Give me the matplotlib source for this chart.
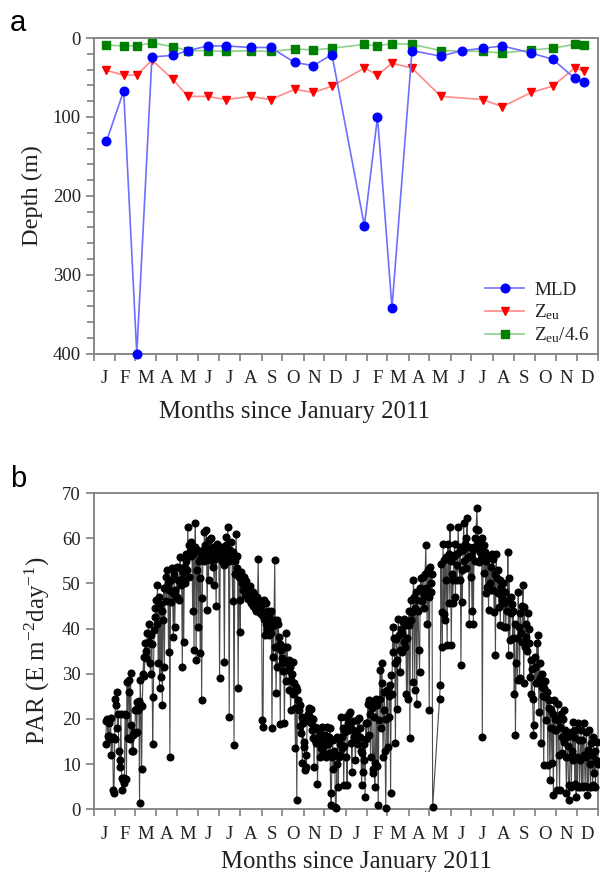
import numpy as np
import pandas as pd
import matplotlib
matplotlib.use("Agg")
import matplotlib.pyplot as plt
import matplotlib.dates as mdates

plt.rcParams["font.family"] = ["Liberation Serif", "DejaVu Serif"]
plt.rcParams["mathtext.fontset"] = "custom"
plt.rcParams["mathtext.rm"] = "Liberation Serif"
plt.rcParams["mathtext.it"] = "Liberation Serif:italic"

# ---------------- panel a: monthly profiles ----------------
mld_dates = ["2011-01-19", "2011-02-13", "2011-03-04", "2011-03-26", "2011-04-25",
             "2011-05-17", "2011-06-15", "2011-07-11", "2011-08-16", "2011-09-14",
             "2011-10-19", "2011-11-15", "2011-12-12", "2012-01-28", "2012-02-16",
             "2012-03-08", "2012-04-06", "2012-05-18", "2012-06-17", "2012-07-18",
             "2012-08-15", "2012-09-26", "2012-10-27", "2012-11-28", "2012-12-11"]
mld = [131, 67, 400, 24, 22, 16, 10, 10, 12, 12, 31, 35, 21,
       238, 100, 342, 16, 23, 16, 13, 10, 19, 27, 51, 56]
# euphotic depth (no value on the June 2012 cruise)
zeu = [41, 47, 47, 28, 52, 74, 74, 78, 74, 78, 65, 69, 61,
       38, 47, 32, 38, 74, np.nan, 78, 87, 69, 61, 38, 42]
zeu_46 = [9, 10, 10, 6, 11, 16, 16, 17, 16, 17, 14, 15, 13,
          8, 10, 7, 8, 16, np.nan, 17, 19, 15, 13, 8, 9]

# ---------------- panel b: daily PAR ----------------
par_2011 = [
    # Jan (from the 18th)
    [14.5, 19.5, 20.0, 16.3, 19.0, 16.2, 15.5, 20.2, 12.0, 15.8, 16.0, 4.2, 3.5, 15.5],
    # Feb
    [24.5, 23.0, 26.0, 18.0, 21.0, 12.8, 9.4, 11.0, 21.2, 7.0, 4.3, 6.5, 5.8, 7.0,
     21.0, 20.8, 6.8, 28.2, 15.7, 26.0, 28.7, 15.5, 30.1, 18.6, 12.8, 16.4, 13.0, 17.0],
    # Mar
    [16.8, 22.0, 22.3, 17.0, 23.8, 22.0, 24.0, 1.3, 28.6, 23.0, 9.0, 22.8, 30.0, 33.8,
     29.5, 36.7, 35.0, 33.5, 39.0, 36.8, 41.1, 37.0, 32.3, 30.0, 38.5, 36.5, 14.4, 24.8,
     39.7, 42.6, 44.5],
    # Apr
    [46.3, 41.0, 49.6, 32.3, 47.0, 26.8, 45.5, 29.3, 44.0, 23.0, 41.9, 49.0, 31.5, 48.9,
     51.5, 46.0, 53.0, 50.0, 34.9, 48.5, 11.6, 50.7, 45.9, 53.5, 47.8, 38.2, 52.0, 40.4,
     48.5, 47.0],
    # May
    [53.7, 47.0, 50.7, 46.3, 53.5, 55.9, 49.6, 51.0, 31.5, 52.5, 37.0, 53.7, 50.0, 55.0,
     56.5, 53.0, 62.5, 51.5, 58.5, 57.0, 56.0, 59.2, 57.7, 44.0, 56.5, 35.2, 58.0, 63.3,
     33.0, 57.5, 53.0],
    # Jun
    [40.4, 55.0, 51.1, 34.5, 56.0, 24.3, 46.7, 57.4, 55.0, 61.4, 58.5, 56.5, 61.8, 44.1,
     57.0, 50.7, 59.6, 55.1, 60.0, 57.7, 56.0, 53.7, 58.0, 49.6, 55.5, 57.0, 45.0, 56.0,
     58.8, 57.5],
    # Jul
    [57.5, 29.0, 56.5, 58.0, 55.0, 57.0, 56.5, 54.0, 32.6, 57.0, 58.5, 60.3, 56.0, 62.5,
     55.0, 20.5, 57.5, 59.2, 56.0, 55.9, 46.0, 57.0, 14.2, 52.0, 55.0, 61.0, 53.3, 56.0,
     26.8, 51.5, 46.3],
    # Aug
    [39.3, 52.6, 51.0, 50.0, 48.5, 51.5, 49.0, 47.5, 50.5, 48.0, 49.5, 46.5, 48.0, 47.0,
     49.5, 45.6, 47.5, 46.0, 48.0, 45.0, 47.5, 44.5, 46.5, 44.0, 47.0, 45.0, 55.4, 44.8,
     46.0, 43.5, 44.5],
    # Sep
    [43.0, 19.8, 18.3, 42.2, 46.3, 38.5, 41.1, 45.6, 40.0, 44.0, 38.6, 43.0, 41.5, 39.0,
     44.0, 17.9, 40.5, 33.8, 42.0, 55.1, 36.0, 25.8, 41.9, 31.5, 41.1, 38.2, 36.5, 18.8,
     35.2, 32.3],
    # Oct
    [33.5, 30.5, 36.0, 19.0, 32.5, 39.0, 28.5, 36.0, 30.8, 33.0, 26.4, 31.5, 22.0, 28.6,
     30.0, 32.6, 25.5, 28.0, 22.5, 13.5, 27.0, 2.0, 26.4, 24.2, 22.0, 18.5, 23.0, 16.8,
     20.5, 10.2, 19.0],
    # Nov
    [15.0, 13.9, 8.7, 12.0, 9.4, 19.8, 21.0, 22.0, 22.4, 20.5, 22.3, 19.0, 17.5, 15.7,
     20.0, 9.4, 18.3, 15.4, 14.6, 18.0, 5.7, 15.3, 16.0, 11.6, 17.0, 13.5, 18.3, 14.0,
     12.5, 15.0],
    # Dec
    [14.0, 16.5, 11.6, 15.5, 18.3, 14.5, 16.0, 12.5, 18.0, 3.5, 1.0, 11.6, 15.3, 9.0,
     13.0, 12.0, 0.6, 0.2, 10.0, 16.0, 5.0, 11.6, 14.5, 12.0, 20.5, 16.0, 13.5, 18.0,
     5.4, 14.0, 17.0],
]
par_2011_first_day = 18

par_2012 = [
    # Jan
    [20.5, 11.6, 5.4, 19.0, 17.5, 21.0, 21.6, 18.0, 14.6, 8.3, 17.5, 19.5, 16.0, 15.0,
     10.9, 17.0, 16.5, 19.8, 14.5, 20.1, 18.0, 16.0, 13.0, 5.4, 12.5, 8.3, 11.0, 14.5,
     2.8, 19.0, 15.5],
    # Feb
    [19.0, 23.4, 16.4, 24.2, 21.0, 11.6, 24.0, 22.5, 8.0, 9.0, 20.5, 5.0, 10.2, 24.5,
     9.5, 23.0, 1.0, 19.8, 24.5, 30.8, 18.0, 32.3, 27.9, 11.6, 22.0, 26.0, 13.0, 0.2,
     20.0],
    # Mar
    [26.4, 13.9, 20.5, 25.0, 27.5, 3.5, 29.7, 25.5, 40.4, 34.9, 38.0, 32.3, 14.6, 37.8,
     33.0, 22.3, 42.2, 38.5, 35.2, 30.4, 40.0, 39.0, 34.9, 41.5, 37.0, 42.2, 36.0, 40.8,
     25.6, 38.0, 24.5],
    # Apr
    [40.8, 44.0, 15.7, 46.3, 42.0, 43.7, 28.2, 50.7, 47.0, 26.4, 44.5, 48.0, 23.4, 46.3,
     44.0, 35.2, 30.4, 49.0, 51.1, 46.0, 48.5, 51.5, 47.5, 44.5, 52.0, 58.5, 49.0, 41.1,
     53.0, 47.0],
    # May (sensor gap 7-15 May)
    [22.0, 53.7, 48.0, 50.0, 52.0, 0.6, np.nan, np.nan, np.nan, np.nan, np.nan, np.nan,
     np.nan, np.nan, np.nan, 24.5, 27.5, 54.4, 43.7, 36.0, 58.8, 43.3, 55.1, 41.9, 55.9,
     50.7, 36.3, 58.8, 56.6, 45.6, 62.5],
    # Jun
    [55.0, 36.3, 52.0, 45.6, 50.7, 56.0, 58.8, 47.0, 56.6, 50.7, 54.0, 62.5, 57.0, 50.7,
     58.0, 31.9, 53.0, 45.9, 57.5, 63.3, 55.0, 58.8, 53.3, 60.0, 64.4, 55.9, 58.0, 41.1,
     56.0, 51.5],
    # Jul
    [56.0, 44.0, 57.5, 41.0, 58.0, 60.0, 55.0, 62.0, 66.6, 61.8, 59.2, 54.8, 58.5, 57.0,
     55.5, 60.0, 16.0, 56.6, 58.5, 52.2, 57.0, 47.8, 55.0, 49.2, 56.0, 44.1, 55.9, 50.0,
     53.7, 48.5, 56.6],
    # Aug
    [48.5, 55.4, 43.7, 52.0, 34.1, 56.6, 51.1, 47.8, 53.0, 44.8, 50.7, 40.8, 49.2, 47.0,
     46.3, 50.0, 40.4, 45.6, 48.0, 40.4, 46.0, 44.0, 57.0, 34.1, 51.1, 37.4, 47.0, 43.4,
     45.5, 38.0, 44.0],
    # Sep
    [25.6, 41.0, 16.4, 32.3, 38.0, 28.6, 48.2, 40.4, 29.0, 43.4, 39.0, 37.0, 45.0, 49.6,
     27.9, 44.8, 36.0, 41.0, 38.2, 35.0, 43.4, 36.7, 40.0, 29.3, 33.0, 25.6, 31.0, 24.5,
     16.4, 18.6],
    # Oct
    [33.8, 31.5, 28.0, 36.7, 28.2, 38.6, 21.6, 32.3, 29.0, 14.6, 27.1, 30.0, 25.0, 9.8,
     26.8, 28.5, 24.9, 19.8, 26.0, 9.8, 24.2, 22.5, 6.5, 22.0, 18.0, 10.2, 21.0, 3.2,
     24.2, 17.5, 20.0],
    # Nov
    [17.5, 4.3, 23.4, 19.8, 12.0, 4.3, 18.3, 21.0, 16.0, 12.4, 20.0, 22.0, 15.0, 17.5,
     11.6, 3.5, 16.0, 14.0, 5.4, 2.1, 11.6, 17.0, 5.0, 13.0, 19.4, 11.0, 16.0, 5.5,
     17.5, 2.8],
    # Dec
    [11.6, 5.0, 19.0, 15.3, 5.0, 11.0, 17.5, 5.2, 15.3, 5.0, 19.0, 12.0, 5.2, 11.6,
     17.0, 3.2, 13.1, 5.0, 17.5, 10.0, 5.0, 14.6, 12.0, 5.3, 16.0, 8.0, 13.0, 5.0,
     11.0, 15.0, 10.0],
]

month_letters = ["J", "F", "M", "A", "M", "J", "J", "A", "S", "O", "N", "D"]
years = [2011, 2012]


def daily_series(year, months, first_day=1):
    dates, vals = [], []
    for m, v in enumerate(months, start=1):
        start = pd.Timestamp(year, m, first_day if m == 1 else 1)
        dates.extend(start + pd.to_timedelta(np.arange(len(v)), unit="D"))
        vals.extend(v)
    return dates, vals


d1, v1 = daily_series(2011, par_2011, par_2011_first_day)
d2, v2 = daily_series(2012, par_2012)
par = pd.Series(v1 + v2, index=pd.DatetimeIndex(d1 + d2)).dropna()

mld_x = mdates.date2num(pd.to_datetime(mld_dates))
par_x = mdates.date2num(par.index)

month_starts = pd.date_range("2011-01-01", "2013-01-01", freq="MS")
tick_major = mdates.date2num(month_starts)
tick_mid = (tick_major[:-1] + tick_major[1:]) / 2.0
tick_text = month_letters * len(years)

spine_col = "#7f7f7f"
text_col = "#222222"

fig = plt.figure(figsize=(6.0, 8.72), dpi=100)
ax1 = fig.add_axes([0.1567, 0.5944, 0.8403, 0.3620])
ax2 = fig.add_axes([0.1567, 0.0719, 0.8403, 0.3627])


def style_axes(ax, label_xy):
    for s in ax.spines.values():
        s.set_color(spine_col)
        s.set_linewidth(1.3)
    ax.set_xlim(tick_major[0], tick_major[-1])
    ax.set_xticks(tick_major)
    ax.set_xticklabels([""] * len(tick_major))
    ax.set_xticks(tick_mid, minor=True)
    ax.set_xticklabels(tick_text, minor=True)
    ax.tick_params(axis="x", which="major", direction="out", length=5,
                   width=1.2, color=spine_col)
    ax.tick_params(axis="x", which="minor", length=0, pad=12,
                   labelsize=13.5, labelcolor=text_col)
    ax.tick_params(axis="y", which="both", direction="out", width=1.2,
                   color=spine_col, labelsize=13.5, labelcolor=text_col)
    ax.tick_params(axis="y", which="major", length=6)
    ax.tick_params(axis="y", which="minor", length=5)
    ax.set_xlabel("Months since January 2011", fontsize=17.8, color=text_col)
    ax.xaxis.set_label_coords(*label_xy)


# panel a
style_axes(ax1, (0.397, -0.150))
ax1.plot(mld_x, mld, color="#6f6fff", lw=1.2, marker="o", ms=6.2,
         mfc="#0000ff", mec="#0000ff", clip_on=False, zorder=4, label="MLD")
zmask = ~np.isnan(np.array(zeu, dtype=float))
ax1.plot(mld_x[zmask], np.array(zeu, dtype=float)[zmask], color="#ff8a8a", lw=1.2,
         marker="v", ms=6.2, mfc="#ff0000", mec="#ff0000", clip_on=False, zorder=3,
         label=r"Z$_{\mathrm{eu}}$")
gmask = ~np.isnan(np.array(zeu_46, dtype=float))
ax1.plot(mld_x[gmask], np.array(zeu_46, dtype=float)[gmask], color="#8fd08f", lw=1.2,
         marker="s", ms=5.2, mfc="#008000", mec="#008000", clip_on=False, zorder=3,
         label=r"Z$_{\mathrm{eu}}$/4.6")
ax1.set_ylim(400, 0)
ax1.set_yticks([0, 100, 200, 300, 400])
ax1.set_yticks(np.arange(0, 401, 20), minor=True)
ax1.set_ylabel("Depth (m)", fontsize=17.5, color=text_col, labelpad=7)
leg = ax1.legend(loc="lower right", bbox_to_anchor=(1.0, 0.0), frameon=False,
                 fontsize=13.8, handlelength=2.05, handletextpad=0.5,
                 labelspacing=0.17, borderaxespad=0.05, numpoints=1)
for t in leg.get_texts():
    t.set_color(text_col)

# panel b
style_axes(ax2, (0.520, -0.132))
ax2.plot(par_x, par.values, color="#4a4a4a", lw=0.8, marker="o", ms=4.8,
         mfc="#000000", mec="#000000", zorder=3, clip_on=False)
ax2.set_ylim(0, 70)
ax2.set_yticks(np.arange(0, 71, 10))
ax2.set_ylabel(r"PAR (E m$^{\mathrm{-2}}$day$^{\mathrm{-1}}$)", fontsize=18,
               color=text_col, labelpad=7)

fig.text(0.017, 0.965, "a", fontsize=21, family="Liberation Sans", ha="left",
         va="baseline")
fig.text(0.017, 0.441, "b", fontsize=21, family="Liberation Sans", ha="left",
         va="baseline")

fig.savefig("out.png", dpi=100)
